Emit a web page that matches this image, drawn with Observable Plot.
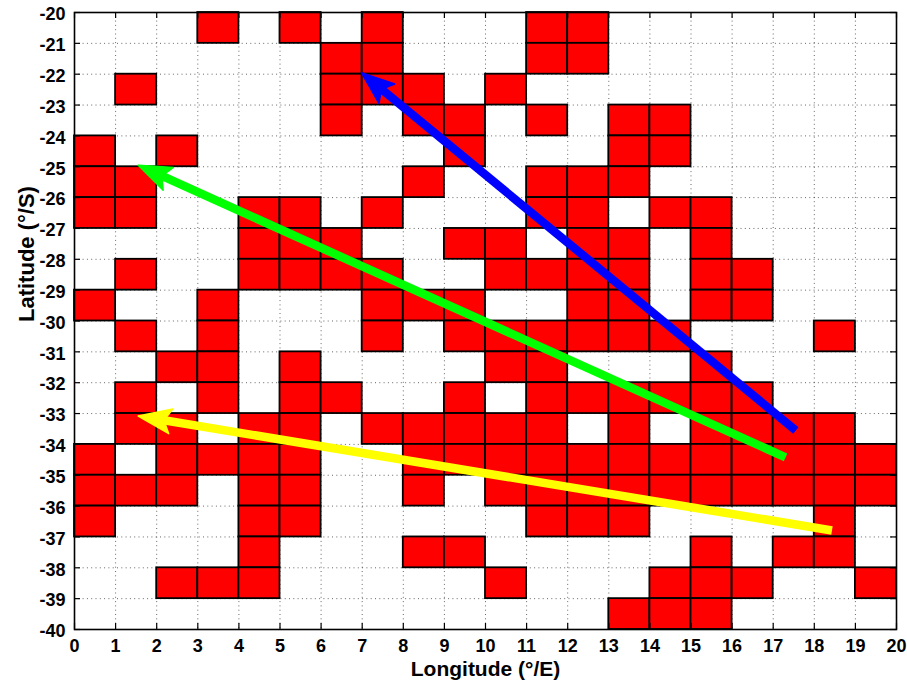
<!DOCTYPE html>
<html>
<head>
<meta charset="utf-8">
<script src="https://cdn.jsdelivr.net/npm/d3@7"></script>
<script src="https://cdn.jsdelivr.net/npm/@observablehq/plot@0.6"></script>
<style>
  body { margin: 0; background: #fff; }
</style>
</head>
<body>
<div id="chart"></div>
<script>
// Grid rows (top latitude of each 1° row)
const rowLatitudes = [-20, -21, -22, -23, -24, -25, -26, -27, -28, -29, -30, -31, -32, -33, -34, -35, -36, -37, -38, -39];
// Western longitude of each red 1° cell, per row
const redLongitudesByRow = [
  [3, 5, 7, 11, 12],
  [6, 7, 11, 12],
  [1, 6, 7, 8, 10],
  [6, 8, 9, 11, 13, 14],
  [0, 2, 9, 13, 14],
  [0, 1, 8, 11, 12, 13],
  [0, 1, 4, 5, 7, 11, 12, 14, 15],
  [4, 5, 6, 9, 10, 12, 13, 15],
  [1, 4, 5, 6, 7, 10, 11, 12, 13, 15, 16],
  [0, 3, 7, 8, 9, 12, 13, 15, 16],
  [1, 3, 7, 9, 10, 11, 12, 13, 14, 18],
  [2, 3, 5, 10, 11, 15],
  [1, 3, 5, 6, 9, 11, 12, 13, 14, 15, 16],
  [1, 2, 4, 5, 7, 8, 9, 10, 11, 13, 15, 16, 17, 18],
  [0, 2, 3, 4, 5, 8, 9, 10, 11, 12, 13, 14, 15, 16, 17, 18, 19],
  [0, 1, 2, 4, 5, 8, 10, 11, 12, 13, 14, 15, 16, 17, 18, 19],
  [0, 4, 5, 11, 12, 13, 18],
  [4, 8, 9, 15, 17, 18],
  [2, 3, 4, 10, 14, 15, 16, 19],
  [13, 14, 15]
];
const xTicks = [0, 1, 2, 3, 4, 5, 6, 7, 8, 9, 10, 11, 12, 13, 14, 15, 16, 17, 18, 19, 20];
const yTicks = [-20, -21, -22, -23, -24, -25, -26, -27, -28, -29, -30, -31, -32, -33, -34, -35, -36, -37, -38, -39, -40];

// Arrows (tail -> tip)
const arrowColors = ["#0000ff", "#00ff00", "#ffff00"];
const arrowTailLon = [17.55, 17.3, 18.43];
const arrowTailLat = [-33.55, -34.42, -36.79];
const arrowTipLon = [6.98, 1.55, 1.55];
const arrowTipLat = [-21.95, -24.95, -33.08];

const cells = rowLatitudes.flatMap((lat, r) =>
  redLongitudesByRow[r].map(lon => ({x1: lon, x2: lon + 1, y1: lat, y2: lat - 1}))
);
const arrows = arrowColors.map((c, i) => ({
  color: c, x1: arrowTailLon[i], y1: arrowTailLat[i], x2: arrowTipLon[i], y2: arrowTipLat[i]
}));

// filled arrowhead marker (MATLAB-like)
function headMarker(color, context) {
  const doc = (context && context.document) || document;
  const ns = "http://www.w3.org/2000/svg";
  const m = doc.createElementNS(ns, "marker");
  m.setAttribute("viewBox", "-36 -15 38 30");
  m.setAttribute("markerWidth", 38);
  m.setAttribute("markerHeight", 30);
  m.setAttribute("markerUnits", "userSpaceOnUse");
  m.setAttribute("orient", "auto");
  m.setAttribute("refX", 0);
  m.setAttribute("refY", 0);
  m.setAttribute("overflow", "visible");
  const p = doc.createElementNS(ns, "path");
  p.setAttribute("d", "M0,0 L-33,-12.5 L-26,0 L-33,12.5 Z");
  p.setAttribute("fill", color);
  p.setAttribute("stroke", color);
  p.setAttribute("stroke-width", 1.5);
  p.setAttribute("stroke-linejoin", "round");
  m.appendChild(p);
  return m;
}

const W = 907, H = 681;
const mL = 74, mR = 11, mT = 12, mB = 52;
const plotW = W - mL - mR, plotH = H - mT - mB;
const tick = 6;

const chart = Plot.plot({
  width: W,
  height: H,
  marginLeft: mL,
  marginRight: mR,
  marginTop: mT,
  marginBottom: mB,
  style: {fontFamily: "'Liberation Sans', Arial, sans-serif", fontSize: "18px", fontWeight: "bold", background: "#fff", color: "#000"},
  x: {domain: [0, 20]},
  y: {domain: [-40, -20]},
  color: {type: "identity"},
  marks: [
    Plot.gridX(xTicks, {stroke: "#000", strokeOpacity: 0.6, strokeWidth: 1, strokeDasharray: "1,3.3"}),
    Plot.gridY(yTicks, {stroke: "#000", strokeOpacity: 0.6, strokeWidth: 1, strokeDasharray: "1,3.3"}),
    Plot.rect(cells, {x1: "x1", x2: "x2", y1: "y1", y2: "y2", fill: "#ff0000", stroke: "#000", strokeWidth: 1.8}),
    // arrow shafts
    Plot.arrow(arrows, {x1: "x1", y1: "y1", x2: "x2", y2: "y2", stroke: "color", strokeWidth: 8.5, headLength: 0, insetEnd: 23, strokeLinecap: "butt"}),
    // arrow heads
    Plot.link(arrows, {x1: "x1", y1: "y1", x2: "x2", y2: "y2", stroke: "color", strokeWidth: 1, markerEnd: headMarker}),
    // inward ticks on all four sides
    Plot.ruleX(xTicks, {stroke: "#000", strokeWidth: 1.2, insetTop: plotH - tick}),
    Plot.ruleX(xTicks, {stroke: "#000", strokeWidth: 1.2, insetBottom: plotH - tick}),
    Plot.ruleY(yTicks, {stroke: "#000", strokeWidth: 1.2, insetRight: plotW - tick}),
    Plot.ruleY(yTicks, {stroke: "#000", strokeWidth: 1.2, insetLeft: plotW - tick}),
    Plot.frame({stroke: "#000", strokeWidth: 1.6}),
    Plot.axisX(xTicks, {anchor: "bottom", tickSize: 0, tickPadding: 10, label: null, tickFormat: d => String(d), fontSize: 18, fontWeight: "bold"}),
    Plot.axisY(yTicks, {anchor: "left", tickSize: 0, tickPadding: 9, label: null, tickFormat: d => String(d), dy: 2, fontSize: 18, fontWeight: "bold"}),
    Plot.text(["Longitude (°/E)"], {frameAnchor: "bottom", lineAnchor: "bottom", dy: 46, fontSize: 21, fontWeight: "bold"}),
    Plot.text(["Latitude (°/S)"], {frameAnchor: "left", lineAnchor: "bottom", rotate: -90, dx: -41, dy: 1, fontSize: 22, fontWeight: "bold"})
  ]
});
document.getElementById("chart").appendChild(chart);
</script>
</body>
</html>
